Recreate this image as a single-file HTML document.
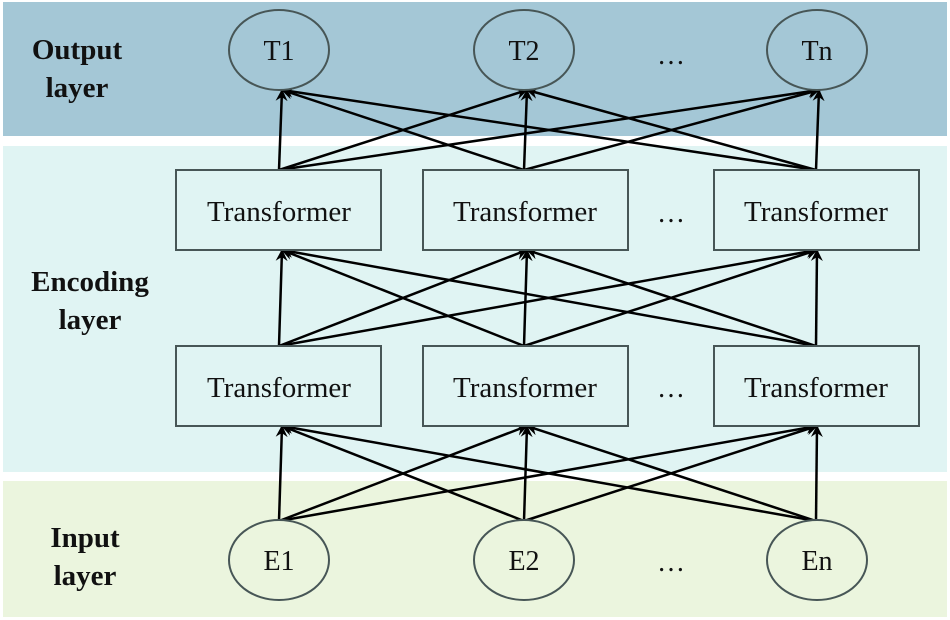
<!DOCTYPE html>
<html><head><meta charset="utf-8"><style>
html,body{margin:0;padding:0;background:#fff;}
svg{display:block;}
text{font-family:"Liberation Serif",serif;fill:#111;}
</style></head><body>
<svg width="950" height="620" viewBox="0 0 950 620" xmlns="http://www.w3.org/2000/svg">
<defs>
<marker id="a" viewBox="0 0 12 12" refX="11" refY="6" markerWidth="12" markerHeight="12" markerUnits="userSpaceOnUse" orient="auto">
<path d="M0,0 L12,6 L0,12 L4,6 Z" fill="#000"/>
</marker>
</defs>
<rect x="3" y="2" width="944" height="134" fill="#a4c7d6"/>
<rect x="3" y="146" width="944" height="326" fill="#e0f4f3"/>
<rect x="3" y="481" width="944" height="136" fill="#ebf5de"/>

<g font-weight="bold" font-size="29" text-anchor="middle">
<text x="77" y="59">Output</text><text x="77" y="97">layer</text>
<text x="90" y="291">Encoding</text><text x="90" y="329">layer</text>
<text x="85" y="547">Input</text><text x="85" y="585">layer</text>
</g>

<g stroke="#000" stroke-width="2.5" fill="none" marker-end="url(#a)">
<line x1="279" y1="170" x2="282" y2="90"/><line x1="524" y1="170" x2="282" y2="90"/><line x1="816" y1="170" x2="282" y2="90"/>
<line x1="279" y1="170" x2="527" y2="90"/><line x1="524" y1="170" x2="527" y2="90"/><line x1="816" y1="170" x2="527" y2="90"/>
<line x1="279" y1="170" x2="819" y2="90"/><line x1="524" y1="170" x2="819" y2="90"/><line x1="816" y1="170" x2="819" y2="90"/>
<line x1="279" y1="346" x2="282" y2="250"/><line x1="524" y1="346" x2="282" y2="250"/><line x1="816" y1="346" x2="282" y2="250"/>
<line x1="279" y1="346" x2="527" y2="250"/><line x1="524" y1="346" x2="527" y2="250"/><line x1="816" y1="346" x2="527" y2="250"/>
<line x1="279" y1="346" x2="817" y2="250"/><line x1="524" y1="346" x2="817" y2="250"/><line x1="816" y1="346" x2="817" y2="250"/>
<line x1="279" y1="521" x2="282" y2="426"/><line x1="524" y1="521" x2="282" y2="426"/><line x1="816" y1="521" x2="282" y2="426"/>
<line x1="279" y1="521" x2="527" y2="426"/><line x1="524" y1="521" x2="527" y2="426"/><line x1="816" y1="521" x2="527" y2="426"/>
<line x1="279" y1="521" x2="817" y2="426"/><line x1="524" y1="521" x2="817" y2="426"/><line x1="816" y1="521" x2="817" y2="426"/>
</g>

<g stroke="#475656" stroke-width="2">
<ellipse cx="279" cy="50" rx="50" ry="40" fill="#a4c7d6"/>
<ellipse cx="524" cy="50" rx="50" ry="40" fill="#a4c7d6"/>
<ellipse cx="817" cy="50" rx="50" ry="40" fill="#a4c7d6"/>
<rect x="176" y="170" width="205" height="80" fill="#e0f4f3"/>
<rect x="423" y="170" width="205" height="80" fill="#e0f4f3"/>
<rect x="714" y="170" width="205" height="80" fill="#e0f4f3"/>
<rect x="176" y="346" width="205" height="80" fill="#e0f4f3"/>
<rect x="423" y="346" width="205" height="80" fill="#e0f4f3"/>
<rect x="714" y="346" width="205" height="80" fill="#e0f4f3"/>
<ellipse cx="279" cy="560" rx="50" ry="40" fill="#ebf5de"/>
<ellipse cx="524" cy="560" rx="50" ry="40" fill="#ebf5de"/>
<ellipse cx="817" cy="560" rx="50" ry="40" fill="#ebf5de"/>
</g>
<g font-size="28" text-anchor="middle">
<text x="279" y="60">T1</text><text x="524" y="60">T2</text><text x="817" y="60">Tn</text>
<text x="671" y="64">…</text>
<text x="279" y="221" font-size="29">Transformer</text><text x="525" y="221" font-size="29">Transformer</text><text x="816" y="221" font-size="29">Transformer</text>
<text x="671" y="222">…</text>
<text x="279" y="397" font-size="29">Transformer</text><text x="525" y="397" font-size="29">Transformer</text><text x="816" y="397" font-size="29">Transformer</text>
<text x="671" y="397">…</text>
<text x="279" y="570">E1</text><text x="524" y="570">E2</text><text x="817" y="570">En</text>
<text x="671" y="571">…</text>
</g>
</svg>
</body></html>
